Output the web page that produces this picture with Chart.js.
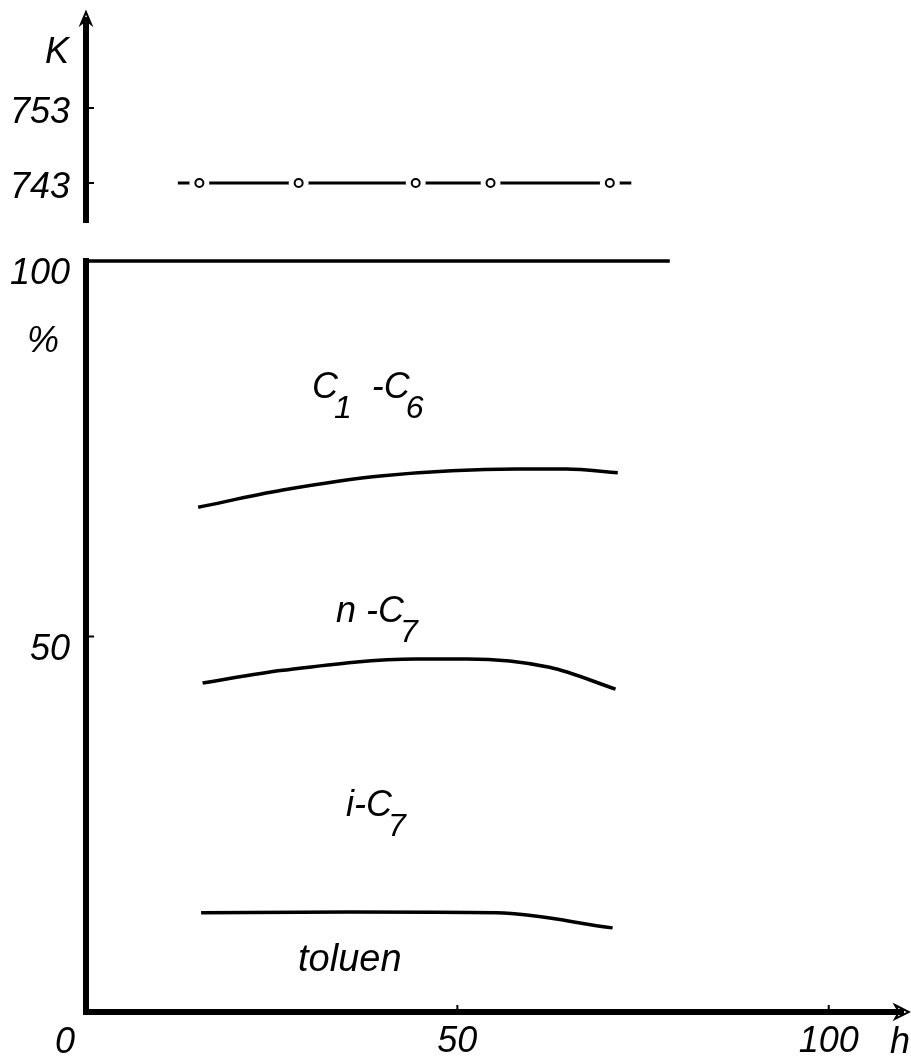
<!DOCTYPE html>
<html lang="de">
<head>
  <meta charset="UTF-8" />
  <title>Temperatur und Produktverteilung</title>
  <script src="https://cdn.jsdelivr.net/npm/chart.js"></script>
  <style>
    * { margin: 0; padding: 0; box-sizing: border-box; }
    body { background: #fff; width: 911px; height: 1063px; overflow: hidden; }
    .wrap { position: relative; width: 911px; height: 1063px; }
    #topChart { position: absolute; left: 0; top: 0; }
    #mainChart { position: absolute; left: 0; top: 240px; }
    .lbl {
      position: absolute;
      font: italic 36px "Liberation Sans", sans-serif;
      line-height: 1;
      color: #000;
      white-space: nowrap;
    }
    .lbl sub {
      font-size: 32px;
      vertical-align: -20px;
      margin-left: -4px;
    }
  </style>
</head>
<body>
  <div class="wrap">
    <canvas id="topChart" width="911" height="240"></canvas>
    <canvas id="mainChart" width="911" height="823"></canvas>

    <div class="lbl" style="left:45px; top:33px;">K</div>
    <div class="lbl" style="left:27px; top:322px;">%</div>
    <div class="lbl" style="left:55px; top:1023px;">0</div>
    <div class="lbl" style="left:890px; top:1023px;">h</div>

    <div class="lbl" style="left:312px; top:368px;">C<sub>1</sub>&nbsp; -C<sub>6</sub></div>
    <div class="lbl" style="left:336px; top:592px;">n -C<sub>7</sub></div>
    <div class="lbl" style="left:346px; top:786px;">i-C<sub>7</sub></div>
    <div class="lbl" style="left:298px; top:939px; font-size:38px;">toluen</div>
  </div>

  <script>
    // temperature panel (K)
    const tempHours = [15.3, 28.7, 44.5, 54.6, 70.7];
    const tempValues = [743, 743, 743, 743, 743];
    const tempLineHours = [12.4, 73.6];
    const tempLineValues = [743, 743];
    const kTicks = [743, 753];

    // composition panel (%), boundaries between the product bands
    const totalHours = [0, 78.6];
    const totalPct = [100, 100];
    const c1c6Hours = [15.1, 26.5, 40.0, 58.0, 64.7, 71.6];
    const c1c6Bound = [67.2, 69.5, 71.4, 72.3, 72.3, 71.8];
    const nc7Hours = [15.7, 26.5, 44.5, 51.3, 62.4, 71.3];
    const nc7Bound = [43.8, 45.5, 47.0, 47.0, 45.9, 43.0];
    const ic7Hours = [15.5, 35.5, 55.3, 70.9];
    const ic7Bound = [13.2, 13.3, 13.2, 11.2];
    const pctTicks = [50, 100];
    const hourTicks = [50, 100];

    const zip = (xs, ys) => xs.map((x, i) => ({ x: x, y: ys[i] }));
    const ink = '#000';
    const tickFont = { family: 'Liberation Sans', size: 36, style: 'italic' };

    // small inward tick marks and the axis arrow heads
    const axisDecor = {
      id: 'axisDecor',
      afterDraw(chart, args, opts) {
        const { ctx, chartArea: a, scales } = chart;
        ctx.save();
        ctx.strokeStyle = ink;
        ctx.fillStyle = ink;
        ctx.lineWidth = 2;
        scales.y.ticks.forEach(t => {
          const y = scales.y.getPixelForValue(t.value);
          ctx.beginPath(); ctx.moveTo(a.left, y); ctx.lineTo(a.left + 8, y); ctx.stroke();
        });
        if (opts.xTicks) {
          scales.x.ticks.forEach(t => {
            const x = scales.x.getPixelForValue(t.value);
            ctx.beginPath(); ctx.moveTo(x, a.bottom); ctx.lineTo(x, a.bottom - 7); ctx.stroke();
          });
        }
        if (opts.arrow === 'right') {
          const y = a.bottom, x = a.right;
          ctx.beginPath();
          ctx.moveTo(x - 8, y - 7); ctx.lineTo(x + 6, y); ctx.lineTo(x - 8, y + 7); ctx.lineTo(x - 4, y);
          ctx.closePath(); ctx.stroke();
        }
        if (opts.arrow === 'up') {
          const x = a.left, y = a.top;
          ctx.beginPath();
          ctx.moveTo(x - 5, y + 4); ctx.lineTo(x, y - 8); ctx.lineTo(x + 5, y + 4); ctx.lineTo(x, y);
          ctx.closePath(); ctx.stroke();
        }
        ctx.restore();
      }
    };

    // keep the plot area where the axes are in the figure
    const fixY = scale => { scale.width = 86; scale.paddingTop = 0; scale.paddingBottom = 0; };
    const fixX = scale => { scale.height = 51; scale.paddingLeft = 0; scale.paddingRight = 0; };

    new Chart(document.getElementById('topChart'), {
      type: 'line',
      data: {
        datasets: [
          {
            data: zip(tempHours, tempValues),
            showLine: false,
            pointRadius: 4,
            pointBorderWidth: 2,
            pointBackgroundColor: '#fff',
            pointBorderColor: ink
          },
          {
            data: zip(tempHours, tempValues),
            showLine: false,
            pointRadius: 10,
            pointBorderWidth: 0,
            pointBackgroundColor: '#fff',
            pointBorderColor: '#fff'
          },
          {
            data: zip(tempLineHours, tempLineValues),
            borderColor: ink,
            borderWidth: 3,
            pointRadius: 0
          }
        ]
      },
      options: {
        responsive: false,
        animation: false,
        events: [],
        layout: { padding: { top: 20, bottom: 18, left: 0, right: 8 } },
        plugins: { legend: { display: false }, tooltip: { enabled: false }, axisDecor: { arrow: 'up' } },
        scales: {
          x: { type: 'linear', min: 0, max: 110, display: false },
          y: {
            min: 737.8,
            max: 764.73,
            afterFit: fixY,
            afterBuildTicks: s => { s.ticks = kTicks.map(v => ({ value: v })); },
            grid: { display: false, drawTicks: false },
            border: { display: true, width: 6, color: ink },
            ticks: { color: ink, font: tickFont, padding: 16, labelOffset: 5 }
          }
        }
      },
      plugins: [axisDecor]
    });

    const curve = (xs, ys, w) => ({
      data: zip(xs, ys),
      borderColor: ink,
      borderWidth: w,
      pointRadius: 0,
      cubicInterpolationMode: 'monotone',
      clip: false
    });

    new Chart(document.getElementById('mainChart'), {
      type: 'line',
      data: {
        datasets: [
          curve(totalHours, totalPct, 3.5),
          curve(c1c6Hours, c1c6Bound, 3.5),
          curve(nc7Hours, nc7Bound, 3.5),
          curve(ic7Hours, ic7Bound, 3.5)
        ]
      },
      options: {
        responsive: false,
        animation: false,
        events: [],
        layout: { padding: { top: 21, bottom: 0, left: 0, right: 8 } },
        plugins: { legend: { display: false }, tooltip: { enabled: false }, axisDecor: { arrow: 'right', xTicks: true } },
        scales: {
          x: {
            type: 'linear',
            min: 0,
            max: 110,
            afterFit: fixX,
            afterBuildTicks: s => { s.ticks = hourTicks.map(v => ({ value: v })); },
            grid: { display: false, drawTicks: false },
            border: { display: true, width: 6, color: ink },
            ticks: { color: ink, font: tickFont, padding: 8, maxRotation: 0 }
          },
          y: {
            min: 0,
            max: 100,
            afterFit: fixY,
            afterBuildTicks: s => { s.ticks = pctTicks.map(v => ({ value: v })); },
            grid: { display: false, drawTicks: false },
            border: { display: true, width: 6, color: ink },
            ticks: { color: ink, font: tickFont, padding: 16, labelOffset: 13 }
          }
        }
      },
      plugins: [axisDecor]
    });
  </script>
</body>
</html>
